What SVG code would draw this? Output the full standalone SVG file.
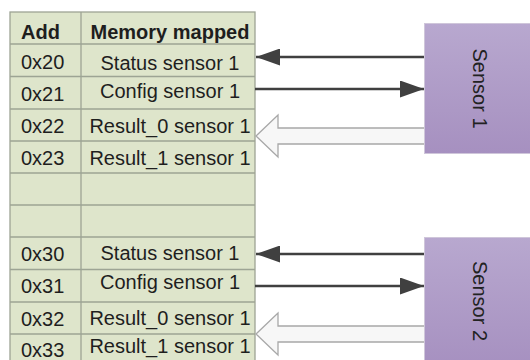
<svg xmlns="http://www.w3.org/2000/svg" width="530" height="360" viewBox="0 0 530 360">
<style>
.t{font-family:"Liberation Sans",Arial,sans-serif;font-size:20px;fill:#1e1e1e}
.h{font-weight:bold}
.c{text-anchor:middle}
.grid{stroke:#9da494;stroke-width:1.3;fill:none}
.dark{stroke:#404040;stroke-width:2.4;fill:none}
.hollow{fill:#f7f7f7;stroke:#a8a8a8;stroke-width:1.3}
.sensor{fill:url(#pg);stroke:#cfc6da;stroke-width:1}
.st{font-family:"Liberation Sans",Arial,sans-serif;font-size:20px;fill:#222;text-anchor:middle}
</style>
<defs>
<linearGradient id="pg" x1="0" y1="0" x2="0" y2="1">
<stop offset="0" stop-color="#b8a8cf"/>
<stop offset="1" stop-color="#a690c0"/>
</linearGradient>
<marker id="ah" markerUnits="userSpaceOnUse" markerWidth="25" markerHeight="17" refX="24" refY="8.5" orient="auto">
<polygon points="0,0 24,8.5 0,17" fill="#404040"/>
</marker>
</defs>
<rect width="530" height="360" fill="#ffffff"/>
<g id="table">
<rect x="10" y="12" width="245" height="360" fill="#dee5cb" stroke="#9da494" stroke-width="1.3"/>
<path class="grid" d="M81 12V360M10 44H255M10 76.5H255M10 109H255M10 141H255M10 173H255M10 205H255M10 237H255M10 269.5H255M10 302H255M10 334H255"/>
<text class="t h" x="21" y="39">Add</text>
<text class="t h c" x="170" y="39">Memory mapped</text>
<text class="t" x="21" y="69">0x20</text>
<text class="t c" x="170" y="70">Status sensor 1</text>
<text class="t" x="21" y="101">0x21</text>
<text class="t c" x="170" y="98">Config sensor 1</text>
<text class="t" x="21" y="133">0x22</text>
<text class="t c" x="170" y="133">Result_0 sensor 1</text>
<text class="t" x="21" y="165">0x23</text>
<text class="t c" x="170" y="165">Result_1 sensor 1</text>
<text class="t" x="21" y="261">0x30</text>
<text class="t c" x="170" y="260">Status sensor 1</text>
<text class="t" x="21" y="293">0x31</text>
<text class="t c" x="170" y="289">Config sensor 1</text>
<text class="t" x="21" y="326">0x32</text>
<text class="t c" x="170" y="325">Result_0 sensor 1</text>
<text class="t" x="21" y="357">0x33</text>
<text class="t c" x="170" y="353">Result_1 sensor 1</text>
</g>
<g id="connectors">
<line class="dark" x1="425" y1="57" x2="256" y2="57" marker-end="url(#ah)"/>
<line class="dark" x1="255" y1="89" x2="424" y2="89" marker-end="url(#ah)"/>
<polygon class="hollow" points="256,136 278,115 278,128 425,128 425,144 278,144 278,157"/>
<line class="dark" x1="425" y1="254" x2="256" y2="254" marker-end="url(#ah)"/>
<line class="dark" x1="255" y1="286" x2="424" y2="286" marker-end="url(#ah)"/>
<polygon class="hollow" points="256,334 278,313 278,326 425,326 425,342 278,342 278,355"/>
</g>
<g id="sensor1">
<rect class="sensor" x="424.5" y="23.5" width="120" height="130"/>
<text class="st" transform="translate(480,88.5) rotate(90)" y="7">Sensor 1</text>
</g>
<g id="sensor2">
<rect class="sensor" x="424.5" y="237.5" width="120" height="130"/>
<text class="st" transform="translate(480,301) rotate(90)" y="7">Sensor 2</text>
</g>
</svg>
